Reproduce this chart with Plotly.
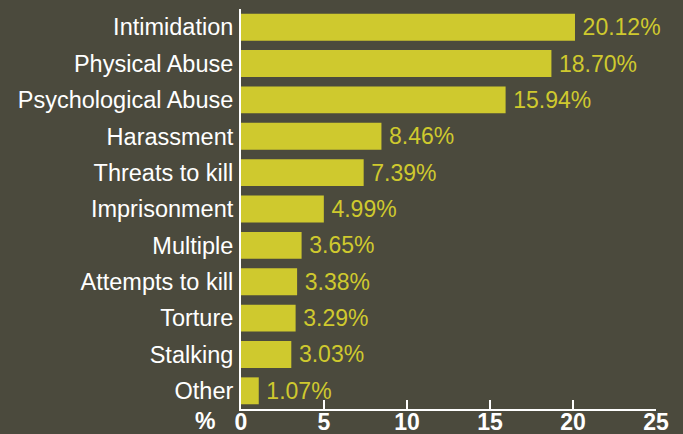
import plotly.graph_objects as go

categories = ["Intimidation", "Physical Abuse", "Psychological Abuse", "Harassment",
              "Threats to kill", "Imprisonment", "Multiple", "Attempts to kill",
              "Torture", "Stalking", "Other"]
values = [20.12, 18.70, 15.94, 8.46, 7.39, 4.99, 3.65, 3.38, 3.29, 3.03, 1.07]
x_ticks = [0, 5, 10, 15, 20, 25]

BG = "#4b4a3d"
YELLOW = "#cfc92e"
FONT = "Liberation Sans, Arial, sans-serif"

fig = go.Figure(go.Bar(
    x=values,
    y=categories,
    orientation="h",
    marker=dict(color=YELLOW, line=dict(width=0)),
    text=[f"\u2009{v:.2f}%" for v in values],
    textposition="outside",
    textfont=dict(color=YELLOW, size=23, family=FONT),
    cliponaxis=False,
))

L, R, T, B = 241, 27, 9, 25
fig.update_layout(
    width=683, height=434,
    paper_bgcolor=BG, plot_bgcolor=BG,
    margin=dict(l=L, r=R, t=T, b=B),
    bargap=0.26,
    showlegend=False,
    font=dict(family=FONT, color="white", size=23),
    xaxis=dict(
        range=[0, 25], tickvals=x_ticks, showgrid=False, zeroline=False,
        automargin=False,
        showline=True, linecolor="white", linewidth=2,
        ticks="inside", ticklen=9, tickwidth=2, tickcolor="white",
        tickfont=dict(family=FONT, size=23, color="white", weight="bold"),
        ticklabelstandoff=-9,
    ),
    yaxis=dict(
        autorange="reversed", showgrid=False, zeroline=False,
        automargin=False,
        showline=True, linecolor="white", linewidth=2,
        ticks="", ticklabelstandoff=1,
        tickfont=dict(family=FONT, size=23.5, color="white"),
    ),
    annotations=[dict(
        text="<b>%</b>", xref="paper", yref="paper",
        x=(205 - L) / (683 - L - R), y=-(421 - 409) / (434 - T - B),
        xanchor="center", yanchor="middle", showarrow=False,
        font=dict(size=23, color="white", family=FONT),
    )],
)

fig.write_html("out.html", post_script="document.body.style.margin='0';",
               config={"displayModeBar": False})
